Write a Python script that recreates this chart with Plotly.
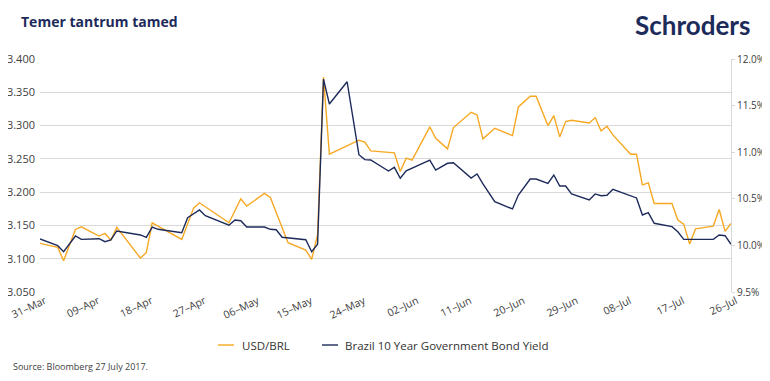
import plotly.graph_objects as go

# ---- data ----
usd_dates = ["2017-03-31","2017-04-03","2017-04-04","2017-04-06","2017-04-07","2017-04-10","2017-04-11","2017-04-12",
             "2017-04-13","2017-04-17","2017-04-18","2017-04-19","2017-04-24","2017-04-26","2017-04-27","2017-05-02",
             "2017-05-04","2017-05-05","2017-05-08","2017-05-09","2017-05-12","2017-05-15","2017-05-16","2017-05-17",
             "2017-05-18","2017-05-19","2017-05-24","2017-05-25","2017-05-26","2017-05-29","2017-05-30","2017-05-31",
             "2017-06-01","2017-06-02","2017-06-05","2017-06-06","2017-06-08","2017-06-09","2017-06-12","2017-06-13",
             "2017-06-14","2017-06-16","2017-06-19","2017-06-20","2017-06-22","2017-06-23","2017-06-25","2017-06-26",
             "2017-06-27","2017-06-28","2017-06-29","2017-07-02","2017-07-03","2017-07-04","2017-07-05","2017-07-06",
             "2017-07-09","2017-07-10","2017-07-11","2017-07-12","2017-07-13","2017-07-16","2017-07-17","2017-07-18",
             "2017-07-19","2017-07-20","2017-07-23","2017-07-24","2017-07-25","2017-07-26"]
usd_brl = [3.123,3.117,3.097,3.144,3.148,3.134,3.138,3.128,
           3.147,3.101,3.109,3.154,3.129,3.176,3.184,3.154,
           3.190,3.179,3.198,3.192,3.124,3.113,3.099,3.136,
           3.373,3.257,3.278,3.275,3.262,3.259,3.259,3.231,
           3.251,3.248,3.298,3.281,3.265,3.297,3.320,3.316,
           3.280,3.296,3.285,3.328,3.344,3.344,3.300,3.315,
           3.283,3.306,3.308,3.304,3.312,3.292,3.299,3.286,
           3.257,3.257,3.211,3.214,3.183,3.183,3.158,3.152,
           3.122,3.145,3.149,3.174,3.141,3.153]

yld_dates = ["2017-03-31","2017-04-03","2017-04-04","2017-04-06","2017-04-07","2017-04-10","2017-04-11","2017-04-12",
             "2017-04-13","2017-04-14","2017-04-16","2017-04-17","2017-04-18","2017-04-19","2017-04-20","2017-04-24",
             "2017-04-25","2017-04-27","2017-04-28","2017-05-02","2017-05-03","2017-05-04","2017-05-05","2017-05-08",
             "2017-05-09","2017-05-10","2017-05-11","2017-05-13","2017-05-15","2017-05-16","2017-05-17","2017-05-18",
             "2017-05-19","2017-05-22","2017-05-24","2017-05-25","2017-05-26","2017-05-29","2017-05-30","2017-05-31",
             "2017-06-01","2017-06-05","2017-06-06","2017-06-08","2017-06-09","2017-06-12","2017-06-13","2017-06-14",
             "2017-06-16","2017-06-19","2017-06-20","2017-06-22","2017-06-23","2017-06-25","2017-06-26","2017-06-27",
             "2017-06-28","2017-06-29","2017-07-02","2017-07-03","2017-07-04","2017-07-05","2017-07-06","2017-07-10",
             "2017-07-11","2017-07-12","2017-07-13","2017-07-16","2017-07-17","2017-07-18","2017-07-23","2017-07-24",
             "2017-07-25","2017-07-26"]
br10y = [10.069,9.997,9.932,10.101,10.065,10.072,10.040,10.058,
         10.155,10.144,10.119,10.112,10.087,10.197,10.173,10.136,
         10.297,10.380,10.319,10.216,10.273,10.265,10.197,10.197,
         10.173,10.168,10.087,10.076,10.061,9.932,10.012,11.785,
         11.517,11.756,10.973,10.920,10.916,10.798,10.838,10.720,
         10.801,10.916,10.809,10.881,10.887,10.723,10.766,10.659,
         10.469,10.391,10.541,10.712,10.712,10.666,10.755,10.637,
         10.637,10.552,10.487,10.552,10.533,10.538,10.602,10.509,
         10.326,10.351,10.237,10.201,10.147,10.065,10.065,10.112,
         10.104,10.012]

tick_dates = ["2017-03-31","2017-04-09","2017-04-18","2017-04-27","2017-05-06","2017-05-15","2017-05-24",
              "2017-06-02","2017-06-11","2017-06-20","2017-06-29","2017-07-08","2017-07-17","2017-07-26"]
tick_text = ["31–Mar","09–Apr","18–Apr","27–Apr","06–May","15–May","24–May",
             "02–Jun","11–Jun","20–Jun","29–Jun","08–Jul","17–Jul","26–Jul"]

ORANGE = "#F7A823"
NAVY = "#1D2B5B"
GRID = "#D9D9D9"
TXT = "#404040"

fig = go.Figure()
fig.add_trace(go.Scatter(x=usd_dates, y=usd_brl, mode="lines", name="USD/BRL",
                         line=dict(color=ORANGE, width=1.4), yaxis="y"))
fig.add_trace(go.Scatter(x=yld_dates, y=br10y, mode="lines", name="Brazil 10 Year Government Bond Yield",
                         line=dict(color=NAVY, width=1.4), yaxis="y2"))

# the page body adds an 8px offset, so the figure is 762x373 and margins are measured from there
fig.update_layout(
    width=762, height=373,
    margin=dict(l=32, r=39, t=51, b=89, autoexpand=False),
    paper_bgcolor="white", plot_bgcolor="white",
    showlegend=False,
    font=dict(family="Open Sans", color=TXT, size=11),
    xaxis=dict(type="date", range=["2017-03-31", "2017-07-26"], tickvals=tick_dates, ticktext=tick_text,
               tickangle=-25, showgrid=False, zeroline=False, showline=False, ticks="", automargin=False,
               ticklabeloverflow="allow", ticklabelshift=5, tickfont=dict(size=10.5, color=TXT)),
    yaxis=dict(range=[3.05, 3.40], dtick=0.05, tick0=3.05, tickformat=".3f", showgrid=True, gridcolor=GRID,
               gridwidth=1, zeroline=False, showline=False, ticks="", ticklabelstandoff=4, automargin=False,
               tickfont=dict(size=11, color=TXT)),
    yaxis2=dict(range=[9.5, 12.0], dtick=0.5, tick0=9.5, tickformat=".1f", ticksuffix="%", overlaying="y",
                side="right", showgrid=False, zeroline=False, showline=True, linecolor=GRID, linewidth=1,
                ticks="outside", ticklen=3, tickcolor=GRID, automargin=False, ticklabelstandoff=0,
                ticklabeloverflow="allow", tickfont=dict(size=10, color=TXT)),
)

def px(x):
    return (x - 40) / 691

def py(y):
    return (292 - y) / 233

# title
fig.add_annotation(text="<b>Temer tantrum tamed</b>", xref="paper", yref="paper", x=px(19), y=py(22),
                   xanchor="left", yanchor="middle", showarrow=False,
                   font=dict(family="Open Sans", size=14, color=NAVY))
# legend (drawn manually)
fig.add_shape(type="line", xref="paper", yref="paper", x0=px(218), x1=px(234), y0=py(345), y1=py(345),
              line=dict(color=ORANGE, width=1.4))
fig.add_shape(type="line", xref="paper", yref="paper", x0=px(322), x1=px(338), y0=py(345), y1=py(345),
              line=dict(color=NAVY, width=1.4))
fig.add_annotation(text="USD/BRL", xref="paper", yref="paper", x=px(240), y=py(345), xanchor="left",
                   yanchor="middle", showarrow=False, font=dict(size=11.5, color="#333333"))
fig.add_annotation(text="Brazil 10 Year Government Bond Yield", xref="paper", yref="paper", x=px(343), y=py(345),
                   xanchor="left", yanchor="middle", showarrow=False, font=dict(size=11.5, color="#333333"))
# source
fig.add_annotation(text="Source: Bloomberg 27 July 2017.", xref="paper", yref="paper", x=px(11), y=py(366),
                   xanchor="left", yanchor="middle", showarrow=False, font=dict(size=9, color=TXT))
# logo text
fig.add_annotation(text="<b>Schroders</b>", xref="paper", yref="paper", x=px(751), y=py(25),
                   xanchor="right", yanchor="middle", showarrow=False, borderpad=0,
                   font=dict(family="Lato", size=26, color=NAVY))

fig.write_html("out.html")
